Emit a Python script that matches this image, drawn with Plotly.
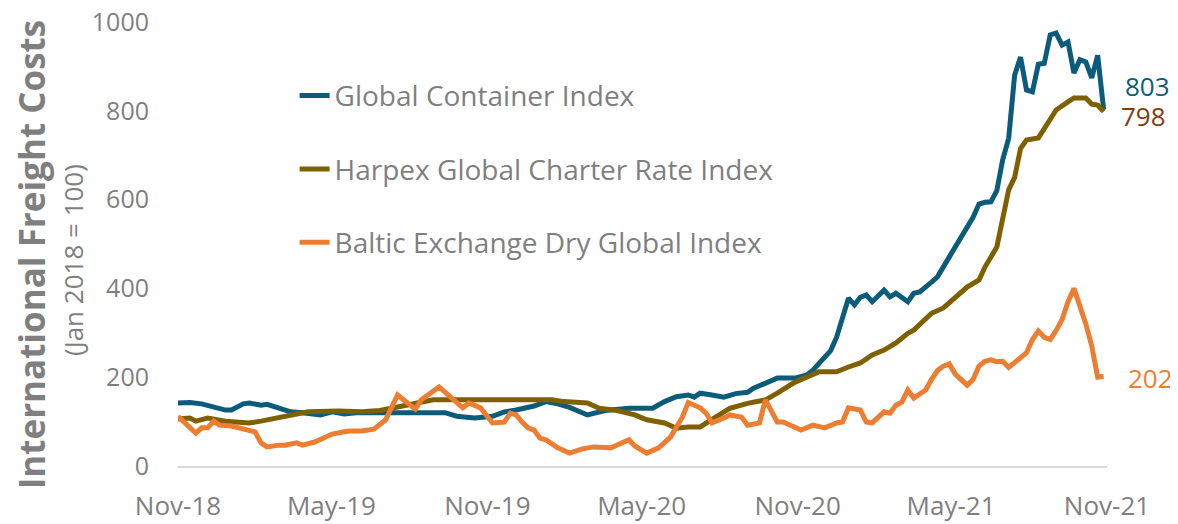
import numpy as np
import pandas as pd
import plotly.graph_objects as go

START = pd.Timestamp("2018-11-01")

# Global Container Index (week offset from 1 Nov 2018, value)
gci_weeks = [0,2,4,6,8,9,11,12,14,15,17,19,21,24,26,28,30,34,38,42,45,47,50,53,55,57,60,62,64,66,
             68,69,72,74,76,80,82,84,86,87,88,90,92,94,96,97,99,101,104,106,107,109,110,111,112,113,114,115,116,117,
             119,120,121,123,124,125,127,128,130,132,134,135,136,137,138,139,140,141,142,143,144,145,146,147,148,149,150,151,152,153,
             154,155,156]
gci_vals = [142,143,140,133,126,126,140,142,137,139,131,122,120,115,122,117,120,120,120,120,120,112,108,112,122,126,135,145,140,132,
            122,115,125,128,130,130,145,156,160,155,164,160,155,163,166,175,185,198,198,205,216,243,260,290,330,378,363,380,385,370,
            396,381,389,370,389,392,414,426,471,516,560,590,594,595,620,690,738,880,921,847,843,905,907,971,975,948,955,885,915,910,
            874,925,803]

# Harpex Global Charter Rate Index
hgc_weeks = [0,2,3,5,8,12,14,15,18,20,22,27,31,34,37,42,43,50,57,63,65,69,71,74,77,79,82,84,86,88,
             90,93,96,99,101,104,108,111,113,115,117,119,121,123,124,127,129,132,133,135,136,138,139,140,141,142,143,145,146,148,
             150,151,153,154,155,156]
hgc_vals = [106,108,101,108,101,97,101,104,113,117,122,124,122,125,133,145,149,149,149,149,145,142,130,125,115,104,97,85,88,88,
            105,130,141,149,164,189,212,212,223,232,250,261,277,299,306,344,356,389,403,419,448,493,554,622,650,715,734,739,760,802,
            820,829,829,815,813,798]

# Baltic Exchange Dry Global Index
bdi_weeks = [0,1,2,3,4,5,6,7,9,12,13,14,15,17,18,20,21,23,24,26,28,29,31,33,35,37,40,41,44,45,
             48,49,51,53,55,56,57,58,59,60,61,62,64,66,68,70,72,73,76,77,79,81,83,85,86,88,89,90,92,93,
             95,96,98,99,101,102,105,107,109,111,112,113,115,116,117,119,120,121,122,123,124,126,127,128,129,130,131,132,133,134,
             135,136,137,138,139,140,141,142,143,144,145,146,147,148,149,150,151,152,153,154,155,156]
bdi_vals = [112,100,86,74,86,86,101,92,90,81,77,52,43,47,47,52,47,54,61,72,77,79,79,83,104,160,128,149,178,167,
            131,142,131,97,99,119,115,99,86,81,63,59,41,29,38,43,43,41,59,45,29,41,65,110,143,131,119,97,108,115,
            110,92,97,149,99,99,81,92,86,97,99,131,126,99,97,122,119,137,144,171,153,171,195,215,225,230,207,195,182,195,
            225,236,239,235,236,222,234,245,255,285,304,290,285,305,330,370,400,360,320,270,200,202]

series_names = ["Global Container Index", "Harpex Global Charter Rate Index", "Baltic Exchange Dry Global Index"]
series_colors = ["#0B5C7B", "#7F6000", "#ED7D31"]
label_colors = ["#0B5C7B", "#843C0C", "#ED7D31"]

tick_dates = ["2018-11-01", "2019-05-01", "2019-11-01", "2020-05-01", "2020-11-01", "2021-05-01", "2021-11-01"]
tick_text = ["Nov-18", "May-19", "Nov-19", "May-20", "Nov-20", "May-21", "Nov-21"]
y_ticks = [0, 200, 400, 600, 800, 1000]


def to_dates(weeks):
    return START + pd.to_timedelta(np.array(weeks) * 7, unit="D")


FONT = "Open Sans, Noto Sans, sans-serif"
GRAY = "#7F7F7F"

fig = go.Figure()
all_series = [(gci_weeks, gci_vals), (hgc_weeks, hgc_vals), (bdi_weeks, bdi_vals)]
for i, ((w, v), name, col) in enumerate(zip(all_series, series_names, series_colors)):
    fig.add_trace(go.Scatter(x=to_dates(w), y=v, mode="lines", name=name,
                             legendgroup=f"g{i}",
                             line=dict(color=col, width=5)))

# end labels
end_shifts = [(19, 23), (15, -4), (22, -2)]
for (w, v), lc, (xs, ys) in zip(all_series, label_colors, end_shifts):
    fig.add_annotation(x=to_dates(w)[-1], y=v[-1], text=str(v[-1]), showarrow=False,
                       xanchor="left", yanchor="middle", xshift=xs, yshift=ys,
                       font=dict(family=FONT, size=26, color=lc))

# y-axis titles
fig.add_annotation(x=-0.158, y=0.475, xref="paper", yref="paper", showarrow=False,
                   text="<b>International Freight Costs</b>", textangle=-90,
                   xanchor="center", yanchor="middle",
                   font=dict(family=FONT, size=35, color=GRAY))
fig.add_annotation(x=-0.113, y=0.464, xref="paper", yref="paper", showarrow=False,
                   text="(Jan 2018 = 100)", textangle=-90,
                   xanchor="center", yanchor="middle",
                   font=dict(family=FONT, size=26, color=GRAY))

fig.update_layout(
    width=1170, height=516,
    margin=dict(l=170, r=71, t=14, b=58),
    paper_bgcolor="white", plot_bgcolor="white",
    showlegend=True,
    legend=dict(x=0.1255, y=0.89, xanchor="left", yanchor="top",
                font=dict(family=FONT, size=28, color=GRAY),
                tracegroupgap=34, bgcolor="rgba(0,0,0,0)"),
    xaxis=dict(type="date", range=["2018-11-01", "2021-11-01"],
               tickvals=tick_dates, ticktext=tick_text,
               showgrid=False, zeroline=False, automargin=False,
               showline=True, linecolor="#D9D9D9", linewidth=2,
               ticks="", ticklabelstandoff=16, ticklabeloverflow="allow",
               tickfont=dict(family=FONT, size=26, color=GRAY)),
    yaxis=dict(range=[0, 1000], tickvals=y_ticks, showgrid=False, zeroline=False,
               showline=False, ticks="", ticklabelstandoff=28, automargin=False,
               ticklabeloverflow="allow",
               tickfont=dict(family=FONT, size=25, color=GRAY)),
)

fig.write_html("out.html")
